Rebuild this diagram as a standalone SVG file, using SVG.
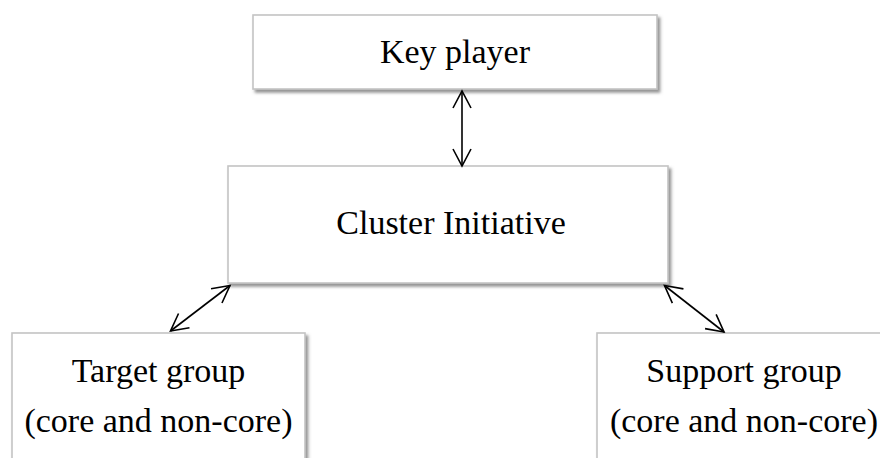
<svg xmlns="http://www.w3.org/2000/svg" width="880" height="458" viewBox="0 0 880 458">
<style>
.box{fill:#ffffff;stroke:#c4c4c4;stroke-width:1.6;filter:url(#sh)}
.t{font-family:"Liberation Serif","Times New Roman",serif;font-size:34px;fill:#000;text-anchor:middle}
.c{fill:none;stroke:#000;stroke-width:1.6;marker-start:url(#ah);marker-end:url(#ah)}
</style>
<defs>
<filter id="sh" x="-10%" y="-10%" width="130%" height="140%">
<feDropShadow dx="2.5" dy="3" stdDeviation="1.6" flood-color="#707070" flood-opacity="0.75"/>
</filter>
<marker id="ah" markerUnits="userSpaceOnUse" viewBox="-20 -12 22 24" markerWidth="22" markerHeight="24" refX="0" refY="0" orient="auto-start-reverse">
<path d="M-17,-9 L0,0 L-17,9" fill="none" stroke="#000" stroke-width="1.6"/>
</marker>
</defs>
<g id="key-player">
<rect class="box" x="253" y="15" width="404" height="74"/>
<text class="t" x="455" y="63">Key player</text>
</g>
<g id="cluster-initiative">
<rect class="box" x="228" y="166" width="440" height="117"/>
<text class="t" x="451" y="234">Cluster Initiative</text>
</g>
<g id="target-group">
<rect class="box" x="12" y="333" width="293" height="140"/>
<text class="t" x="158.5" y="382">Target group</text>
<text class="t" x="158.5" y="432">(core and non-core)</text>
</g>
<g id="support-group">
<rect class="box" x="597" y="333" width="294" height="140"/>
<text class="t" x="744" y="382">Support group</text>
<text class="t" x="744" y="432">(core and non-core)</text>
</g>
<g id="connectors">
<line class="c" x1="462" y1="91" x2="462" y2="166"/>
<line class="c" x1="230" y1="285.5" x2="170.5" y2="331"/>
<line class="c" x1="664.5" y1="285.5" x2="724" y2="332"/>
</g>
</svg>
